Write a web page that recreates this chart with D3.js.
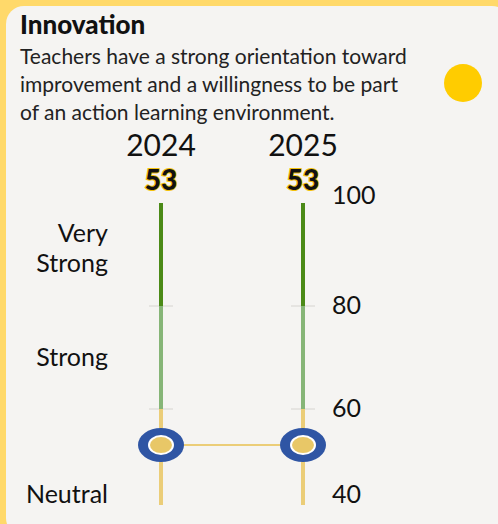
<!DOCTYPE html>
<meta charset="utf-8">
<html>
<head>
    <title>Innovation</title>
    <script src="https://cdn.jsdelivr.net/npm/d3@7"></script>
</head>
<style>
    body{
        margin: 0;
        background: #ffd96a;
    }
    svg{
        display: block;
    }
    .title{
        font-family: Lato, sans-serif;
        font-weight: 900;
        font-size: 26px;
        fill: #111;
    }
    .desc{
        font-family: Lato, sans-serif;
        font-size: 21px;
        fill: #222;
    }
    .year, .tick-label, .band-label{
        font-family: Lato, sans-serif;
        fill: #111;
    }
    .score{
        font-family: Lato, sans-serif;
        font-weight: 900;
        font-size: 28px;
        fill: #111;
        stroke: #f4c20d;
        stroke-width: 2px;
        paint-order: stroke;
    }
</style>
<body>
<svg></svg>
<script>
    // ***************************************
    //        data
    // ***************************************
    const title = "Innovation"
    const descLines = [
        "Teachers have a strong orientation toward",
        "improvement and a willingness to be part",
        "of an action learning environment."
    ]
    const years = ["2024", "2025"]
    const scores = [53, 53]
    const tickValues = [100, 80, 60, 40]
    const bandNames = ["Very Strong", "Strong", "Neutral"]
    const bandFrom = [80, 60, 40]
    const bandTo = [100, 80, 60]

    const W = 498, H = 524
    const svg = d3.select("svg").attr("width", W).attr("height", H)

    // card
    svg.append("rect")
        .attr("x", 6).attr("y", 6)
        .attr("width", W + 6).attr("height", H + 6)
        .attr("rx", 18)
        .attr("fill", "#f5f4f2")

    // header
    svg.append("text").attr("class", "title")
        .attr("x", 20).attr("y", 34)
        .text(title)

    svg.append("g").selectAll("text")
        .data(descLines)
        .join("text")
        .attr("class", "desc")
        .attr("x", 20)
        .attr("y", (d, i) => 64 + i * 28)
        .text(d => d)

    svg.append("circle")
        .attr("cx", 463).attr("cy", 83).attr("r", 19)
        .attr("fill", "#ffcc00")

    // ***************************************
    //        scales
    // ***************************************
    const plotTop = 203, plotBottom = 505
    const x = d3.scalePoint().domain(years).range([161, 303])
    const y = d3.scaleLinear().domain([40, 100]).range([512, plotTop])

    const bandColor = d3.scaleOrdinal()
        .domain(bandNames)
        .range(["#4b8a17", "#86b577", "#ebcd78"])

    svg.append("clipPath").attr("id", "plot")
        .append("rect")
        .attr("x", 0).attr("y", plotTop)
        .attr("width", W).attr("height", plotBottom - plotTop)

    const plot = svg.append("g").attr("clip-path", "url(#plot)")

    // ***************************************
    //        bars (band segments per year)
    // ***************************************
    const segments = years.flatMap(yr => bandNames.map((b, i) => ({
        year: yr, band: b, from: bandFrom[i], to: bandTo[i]
    })))

    // band boundary ticks
    const inner = tickValues.filter(v => v > 40 && v < 100)
    plot.selectAll("line.grid")
        .data(years.flatMap(yr => inner.map(v => ({year: yr, v}))))
        .join("line")
        .attr("class", "grid")
        .attr("x1", d => x(d.year) - 12)
        .attr("x2", d => x(d.year) + 12)
        .attr("y1", d => y(d.v))
        .attr("y2", d => y(d.v))
        .attr("stroke", "#d6d4d0")
        .attr("stroke-width", 1)

    plot.selectAll("rect.seg")
        .data(segments)
        .join("rect")
        .attr("class", "seg")
        .attr("x", d => x(d.year) - 2)
        .attr("width", 4)
        .attr("y", d => y(d.to))
        .attr("height", d => y(d.from) - y(d.to))
        .attr("fill", d => bandColor(d.band))

    // connecting line between the years
    const line = d3.line()
        .x((d, i) => x(years[i]))
        .y(d => y(d))
    plot.append("path")
        .datum(scores)
        .attr("d", line)
        .attr("fill", "none")
        .attr("stroke", "#ebcd78")
        .attr("stroke-width", 2)

    // markers
    const marks = plot.selectAll("g.mark")
        .data(scores)
        .join("g")
        .attr("class", "mark")
        .attr("transform", (d, i) => `translate(${x(years[i])},${y(d)})`)
    marks.append("ellipse").attr("rx", 23).attr("ry", 17).attr("fill", "#2f55a4")
    marks.append("ellipse").attr("rx", 13).attr("ry", 10).attr("fill", "#ffffff")
    marks.append("ellipse").attr("rx", 11).attr("ry", 8).attr("fill", "#e8c767")

    // ***************************************
    //        labels
    // ***************************************
    svg.selectAll("text.year")
        .data(years)
        .join("text")
        .attr("class", "year")
        .attr("x", d => x(d))
        .attr("y", 156)
        .attr("text-anchor", "middle")
        .style("font-size", "30px")
        .text(d => d)

    svg.selectAll("text.score")
        .data(scores)
        .join("text")
        .attr("class", "score")
        .attr("x", (d, i) => x(years[i]))
        .attr("y", 190)
        .attr("text-anchor", "middle")
        .text(d => d)

    // right axis labels, end labels kept inside the plot
    const tickY = v => {
        if (v === 100) return y(v) - 8
        return Math.min(y(v) - 1, plotBottom - 11)
    }
    svg.selectAll("text.tick-label")
        .data(tickValues)
        .join("text")
        .attr("class", "tick-label")
        .attr("x", 332)
        .attr("y", d => tickY(d))
        .attr("dy", "0.35em")
        .style("font-size", "25px")
        .text(d => d)

    // left band labels; the lowest band is cut by the plot, so its label sits by its tick
    const last = bandNames.length - 1
    const bandY = i => i === last ? tickY(bandFrom[i]) : y((bandFrom[i] + bandTo[i]) / 2)
    const bl = svg.selectAll("text.band-label")
        .data(bandNames)
        .join("text")
        .attr("class", "band-label")
        .attr("text-anchor", "end")
        .style("font-size", "25px")
        .attr("y", (d, i) => bandY(i))

    bl.each(function (d, i) {
        const words = d.split(" ")
        const n = words.length
        d3.select(this).selectAll("tspan")
            .data(words)
            .join("tspan")
            .attr("x", 108)
            .attr("dy", (w, j) => j === 0 ? `${0.35 - (n - 1) * 0.6 - (n > 1 ? 0.25 : 0)}em` : "1.2em")
            .text(w => w)
    })
</script>
</body>
</html>
